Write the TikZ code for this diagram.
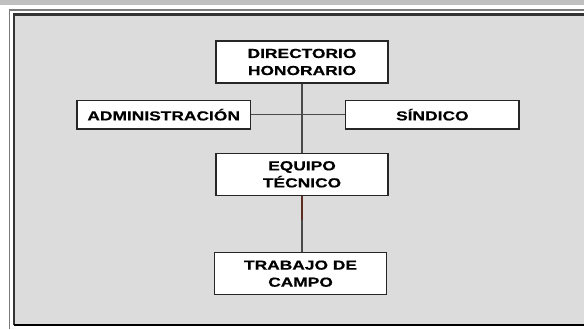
\documentclass[tikz,border=0pt]{standalone}
\usepackage{fontspec}
\setmainfont{Liberation Sans}
\newfontfamily\orgfont[FakeStretch=1.33,FakeBold=0.6]{Liberation Sans}
\usepackage{tikz}
\usetikzlibrary{positioning,calc}

\definecolor{band}{HTML}{C0C0C0}
\definecolor{panel}{HTML}{DCDCDC}
\definecolor{boxline}{HTML}{262626}
\definecolor{linkgray}{HTML}{4A4A4A}
\definecolor{linkbrown}{HTML}{5C2E22}
\definecolor{outerline}{HTML}{7A7A7A}

\tikzset{
	box/.style={draw=boxline, line width=1pt, fill=white, align=center,
		inner sep=0pt, minimum width=129pt,
		font=\orgfont\bfseries\fontsize{9.8}{12.8}\selectfont},
	wide/.style={minimum height=31.5pt},
	flat/.style={minimum height=21.5pt, minimum width=130pt},
	link/.style={draw=linkgray, line width=1pt},
}

\begin{document}
\begin{tikzpicture}[x=0.75pt,y=-0.75pt]
	% page and frame
	\useasboundingbox (0,0) rectangle (584,329);
	\fill[white] (0,0) rectangle (584,329);
	\fill[band] (0,0) rectangle (584,5);
	\fill[panel] (15,15) rectangle (584,325);
	\draw[outerline, line width=1.2pt] (9.5,329) -- (9.5,10) -- (584,10);
	\draw[black!80, line width=1.8pt] (14,325) -- (14,14.5) -- (584,14.5);
	\draw[black, line width=1.8pt] (14,325) -- (584,325);
	
	% chart
	\node[box, wide] (dir) at (302,62) {DIRECTORIO\\HONORARIO};
	\coordinate[below=23.25pt of dir.south] (hub);
	\node[box, flat, left=38.25pt of hub] (admin) {ADMINISTRACIÓN};
	\node[box, flat, right=32.25pt of hub] (sind) {SÍNDICO};
	\node[box, wide, below=51.75pt of dir] (equipo) {EQUIPO\\TÉCNICO};
	\node[box, wide, below=42pt of equipo, xshift=-1.1pt] (campo) {TRABAJO DE\\CAMPO};
	\coordinate[below=18pt of equipo.south] (mid);
	
	\draw[link] (dir) -- (equipo);
	\draw[link] (admin.east) -- (sind.west);
	\draw[link, draw=linkbrown] (equipo.south) -- (mid);
	\draw[link] (mid) -- (equipo.south |- campo.north);
\end{tikzpicture}
\end{document}
